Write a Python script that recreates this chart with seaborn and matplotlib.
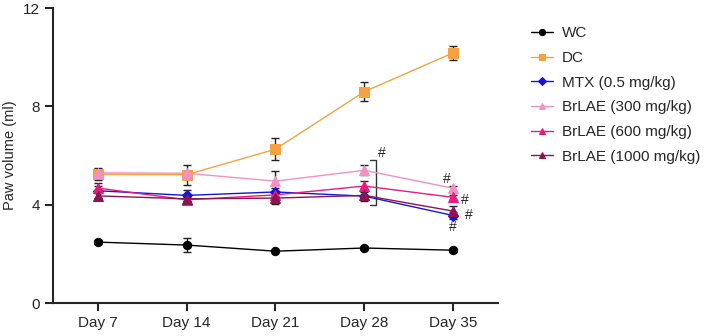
import pandas as pd
import matplotlib
matplotlib.use('Agg')
import matplotlib.pyplot as plt
import seaborn as sns

days = ['Day 7', 'Day 14', 'Day 21', 'Day 28', 'Day 35']
groups = ['WC', 'DC', 'MTX (0.5 mg/kg)', 'BrLAE (300 mg/kg)',
          'BrLAE (600 mg/kg)', 'BrLAE (1000 mg/kg)']

wc = [2.48, 2.36, 2.11, 2.24, 2.15]
dc = [5.24, 5.22, 6.26, 8.6, 10.18]
mtx = [4.57, 4.38, 4.52, 4.35, 3.56]
brlae300 = [5.3, 5.28, 4.96, 5.4, 4.67]
brlae600 = [4.68, 4.2, 4.4, 4.76, 4.3]
brlae1000 = [4.36, 4.24, 4.27, 4.38, 3.74]

wc_err = [0.08, 0.3, 0.05, 0.06, 0.06]
dc_err = [0.25, 0.4, 0.45, 0.4, 0.28]
mtx_err = [0.3, 0.22, 0.15, 0.2, 0.15]
brlae300_err = [0.15, 0.1, 0.4, 0.2, 0.1]
brlae600_err = [0.1, 0.1, 0.1, 0.2, 0.1]
brlae1000_err = [0.1, 0.1, 0.25, 0.12, 0.2]

values = [wc, dc, mtx, brlae300, brlae600, brlae1000]
errors = [wc_err, dc_err, mtx_err, brlae300_err, brlae600_err, brlae1000_err]
colors = ['#000000', '#F5A142', '#1414DC', '#F290C4', '#E81C7C', '#8C1450']
markers = ['o', 's', 'D', '^', '^', '^']
msizes = [6, 6.5, 5, 6.5, 6.5, 6.5]

rows = []
for g, vals in zip(groups, values):
    for i, v in enumerate(vals):
        rows.append({'day': i, 'group': g, 'paw': v})
df = pd.DataFrame(rows)

sns.set_style('ticks')
plt.rcParams['font.family'] = ['Liberation Sans', 'DejaVu Sans']

fig = plt.figure(figsize=(7.09, 3.36), dpi=100)
ax = fig.add_axes([0.075, 0.098, 0.627, 0.878])

for g, vals, err, c, m, ms in zip(groups, values, errors, colors, markers, msizes):
    ax.errorbar(range(len(days)), vals, yerr=err, fmt='none', ecolor='#222222',
                elinewidth=1, capsize=3, capthick=1, zorder=2)
    sns.lineplot(data=df[df['group'] == g], x='day', y='paw', color=c,
                 marker=m, markersize=ms, markeredgecolor=c, linewidth=1,
                 label=g, ax=ax, zorder=3)

ax.set_xlim(-0.5, 4.5)
ax.set_ylim(0, 12)
ax.set_xticks(range(len(days)))
ax.set_xticklabels(days, fontsize=11)
ax.set_yticks([0, 4, 8, 12])
ax.set_yticklabels(['0', '4', '8', '12'], fontsize=11)
ax.set_xlabel('')
ax.set_ylabel('Paw volume (ml)', fontsize=10.5)
ax.tick_params(axis='both', length=6, width=1.5)
for s in ['left', 'bottom']:
    ax.spines[s].set_linewidth(1.5)
sns.despine(ax=ax)

# significance marks
ax.plot([3.06, 3.13, 3.13, 3.06], [5.8, 5.8, 4.0, 4.0], color='#333333', lw=1)
ax.text(3.2, 6.1, '#', fontsize=10, ha='center', va='center')
ax.text(3.93, 5.05, '#', fontsize=10, ha='center', va='center')
ax.text(4.13, 4.2, '#', fontsize=10, ha='center', va='center')
ax.text(4.17, 3.6, '#', fontsize=10, ha='center', va='center')
ax.text(4.0, 3.1, '#', fontsize=10, ha='center', va='center')

handles, labels = ax.get_legend_handles_labels()
ax.legend(handles, labels, loc='upper left', bbox_to_anchor=(1.045, 0.985),
          frameon=False, fontsize=11, handlelength=1.4, labelspacing=0.7,
          markerscale=0.75, handletextpad=0.6)

fig.savefig('out.png', dpi=100)
